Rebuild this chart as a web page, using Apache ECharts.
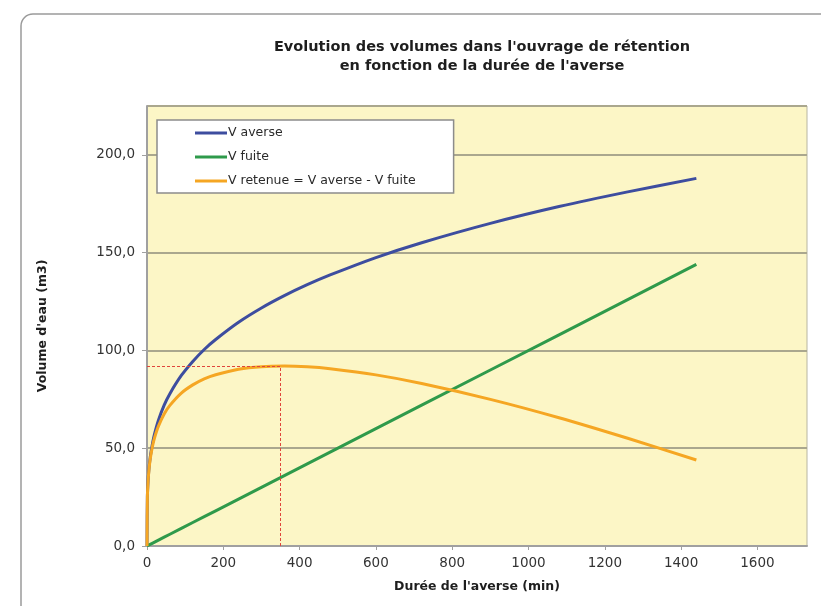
<!DOCTYPE html>
<html>
<head>
<meta charset="utf-8">
<title>Evolution des volumes</title>
<script src="https://cdn.jsdelivr.net/npm/echarts@6/dist/echarts.min.js"></script>
<style>
  html, body { margin: 0; padding: 0; background: #ffffff; }
  #chart { width: 821px; height: 606px; }
</style>
</head>
<body>
<div id="chart"></div>
<script>
// Durée de l'averse (min)
const durations = [0, 1, 3, 5, 7, 10, 15, 20, 30, 45, 60, 90, 120, 150, 180, 240, 300, 360, 420, 480, 600, 720, 900, 1080, 1260, 1440];
// Volume précipité (m3)
const vAverse = [0, 25.1, 34.0, 39.2, 43.0, 47.4, 53.1, 57.5, 64.3, 72.0, 77.9, 87.2, 94.4, 100.5, 105.6, 114.4, 121.7, 128.0, 133.6, 138.6, 147.5, 155.1, 165.0, 173.6, 181.1, 188.0];
// Volume évacué par le débit de fuite (m3)
const vFuite = [0, 0.1, 0.3, 0.5, 0.7, 1.0, 1.5, 2.0, 3.0, 4.5, 6.0, 9.0, 12.0, 15.0, 18.0, 24.0, 30.0, 36.0, 42.0, 48.0, 60.0, 72.0, 90.0, 108.0, 126.0, 144.0];
// Volume à retenir (m3)
const vRetenue = [0, 25.0, 33.7, 38.7, 42.3, 46.4, 51.6, 55.5, 61.3, 67.5, 71.9, 78.2, 82.4, 85.5, 87.6, 90.4, 91.7, 92.0, 91.6, 90.6, 87.5, 83.1, 75.0, 65.6, 55.1, 44.0];

// Volume maximal à retenir et durée critique
const peakT = 350;
const peakV = 92;

const seriesNames = ['V averse', 'V fuite', 'V retenue = V averse - V fuite'];
const titleLines = ["Evolution des volumes dans l'ouvrage de rétention", "en fonction de la durée de l'averse"];

const pairs = (ys) => durations.map((t, i) => [t, ys[i]]);

const FONT = '"DejaVu Sans", "Liberation Sans", Arial, sans-serif';

const chart = echarts.init(document.getElementById('chart'), null, { renderer: 'canvas' });

chart.setOption({
  backgroundColor: '#ffffff',
  animation: false,
  graphic: [{
    type: 'rect',
    shape: { x: 21, y: 14, width: 900, height: 700, r: 12 },
    style: { fill: 'none', stroke: '#9a9a9a', lineWidth: 1.5 },
    silent: true,
    z: -1
  }],
  title: {
    text: titleLines.join('\n'),
    left: 477,
    top: 33,
    textAlign: 'center',
    textStyle: {
      fontFamily: FONT,
      fontSize: 14.5,
      fontWeight: 'bold',
      color: '#1e1e1e',
      lineHeight: 19
    }
  },
  legend: {
    orient: 'vertical',
    left: 157,
    top: 120,
    padding: [6, 38, 5, 38],
    itemGap: 10,
    itemWidth: 32,
    itemHeight: 3,
    icon: 'rect',
    backgroundColor: '#ffffff',
    borderColor: '#8c8c8c',
    borderWidth: 1.5,
    textStyle: {
      fontFamily: FONT,
      fontSize: 12.5,
      color: '#2a2a2a',
      lineHeight: 14,
      padding: [0, 0, 0, -4]
    },
    data: seriesNames
  },
  grid: {
    left: 147,
    right: 14,
    top: 106,
    bottom: 60,
    show: true,
    backgroundColor: '#fcf6c6',
    borderColor: '#b8b6a2',
    borderWidth: 1
  },
  xAxis: {
    type: 'value',
    min: 0,
    max: 1730,
    interval: 200,
    name: "Durée de l'averse (min)",
    nameLocation: 'middle',
    nameGap: 34,
    nameTextStyle: {
      fontFamily: FONT,
      fontSize: 12.5,
      fontWeight: 'bold',
      color: '#1e1e1e'
    },
    axisLine: { show: true, onZero: false, lineStyle: { color: '#a0a0a0', width: 2 } },
    axisTick: { show: true, length: 4, lineStyle: { color: '#a0a0a0' } },
    axisLabel: {
      fontFamily: FONT,
      fontSize: 13.5,
      color: '#333333',
      margin: 10,
      showMaxLabel: false,
      formatter: (v) => String(v)
    },
    splitLine: { show: false }
  },
  yAxis: {
    type: 'value',
    min: 0,
    max: 225,
    interval: 50,
    name: "Volume d'eau (m3)",
    nameLocation: 'middle',
    nameGap: 98,
    nameTextStyle: {
      fontFamily: FONT,
      fontSize: 12.5,
      fontWeight: 'bold',
      color: '#1e1e1e'
    },
    axisLine: { show: true, lineStyle: { color: '#a0a0a0', width: 2 } },
    axisTick: { show: true, length: 5, lineStyle: { color: '#a0a0a0' } },
    axisLabel: {
      fontFamily: FONT,
      fontSize: 13.5,
      color: '#333333',
      margin: 12,
      showMaxLabel: false,
      formatter: (v) => v.toFixed(1).replace('.', ',')
    },
    splitLine: { show: true, lineStyle: { color: '#aaa78e', width: 2 } }
  },
  series: [
    {
      name: seriesNames[0],
      type: 'line',
      data: pairs(vAverse),
      smooth: 0.3,
      symbol: 'none',
      color: '#3d4d9f',
      lineStyle: { width: 3, color: '#3d4d9f' },
      z: 3
    },
    {
      name: seriesNames[1],
      type: 'line',
      data: pairs(vFuite),
      symbol: 'none',
      color: '#2f9a4b',
      lineStyle: { width: 3, color: '#2f9a4b' },
      z: 3
    },
    {
      name: seriesNames[2],
      type: 'line',
      data: pairs(vRetenue),
      smooth: 0.3,
      symbol: 'none',
      color: '#f5a623',
      lineStyle: { width: 3, color: '#f5a623' },
      z: 4,
      markLine: {
        silent: true,
        symbol: 'none',
        label: { show: false },
        lineStyle: { color: '#e0453c', type: [3, 2], width: 1 },
        data: [
          [{ coord: [0, peakV] }, { coord: [peakT, peakV] }],
          [{ coord: [peakT, 0] }, { coord: [peakT, peakV] }]
        ]
      }
    }
  ]
});
</script>
</body>
</html>
